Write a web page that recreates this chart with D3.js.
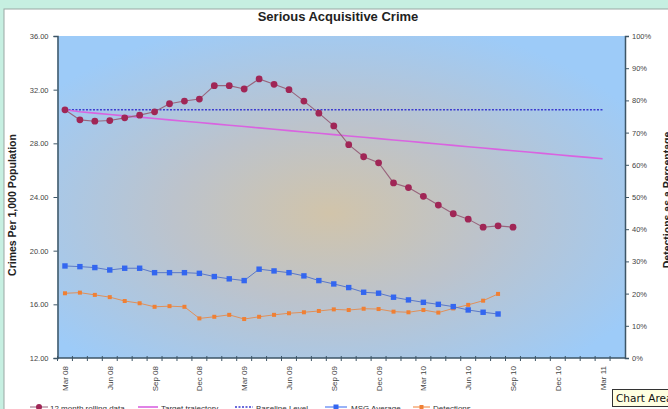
<!DOCTYPE html>
<html>
<head>
<meta charset="utf-8">
<script src="https://cdn.jsdelivr.net/npm/d3@7"></script>
<style>
  body { margin: 0; background: #c6efe1; overflow: hidden; }
  text { font-family: "Liberation Sans", Arial, sans-serif; }
</style>
</head>
<body>
<div id="container"></div>
<script>
let w = 668;
let h = 409;

// categories (monthly)
let months = ['Mar 08','Apr 08','May 08','Jun 08','Jul 08','Aug 08','Sep 08','Oct 08','Nov 08','Dec 08',
  'Jan 09','Feb 09','Mar 09','Apr 09','May 09','Jun 09','Jul 09','Aug 09','Sep 09','Oct 09','Nov 09','Dec 09',
  'Jan 10','Feb 10','Mar 10','Apr 10','May 10','Jun 10','Jul 10','Aug 10','Sep 10','Oct 10','Nov 10','Dec 10',
  'Jan 11','Feb 11','Mar 11','Apr 11'];
let tickLabels = ['Mar 08','Jun 08','Sep 08','Dec 08','Mar 09','Jun 09','Sep 09','Dec 09','Mar 10','Jun 10','Sep 10','Dec 10','Mar 11'];
let leftTicks = [12, 16, 20, 24, 28, 32, 36];
let rightTicks = [0, 0.1, 0.2, 0.3, 0.4, 0.5, 0.6, 0.7, 0.8, 0.9, 1];

// series values
let rolling = [30.5, 29.75, 29.65, 29.7, 29.9, 30.1, 30.35, 30.95, 31.15, 31.3,
  32.3, 32.3, 32.05, 32.8, 32.4, 32.0, 31.15, 30.25, 29.3, 27.9, 27.0, 26.55,
  25.05, 24.7, 24.05, 23.4, 22.75, 22.35, 21.75, 21.85, 21.75];
let target = [30.5, 30.35, 30.25, 30.15, 30.05, 29.95, 29.85, 29.75, 29.65, 29.55,
  29.45, 29.35, 29.25, 29.15, 29.05, 28.95, 28.85, 28.75, 28.65, 28.55, 28.45, 28.35,
  28.25, 28.15, 28.05, 27.95, 27.85, 27.75, 27.65, 27.55, 27.45, 27.35, 27.25, 27.15,
  27.05, 26.95, 26.85];
let baseline = [30.5, 30.5];
let baselineMonths = ['Mar 08', 'Mar 11'];
let msg = [18.86, 18.81, 18.74, 18.56, 18.69, 18.69, 18.36, 18.36, 18.36, 18.31,
  18.07, 17.9, 17.77, 18.62, 18.49, 18.36, 18.12, 17.77, 17.52, 17.25, 16.9, 16.83,
  16.53, 16.33, 16.15, 16.0, 15.83, 15.58, 15.41, 15.28];
let detections = [0.201, 0.203, 0.196, 0.189, 0.177, 0.170, 0.159, 0.161, 0.159, 0.123,
  0.128, 0.134, 0.121, 0.128, 0.134, 0.139, 0.142, 0.146, 0.151, 0.149, 0.153, 0.152,
  0.144, 0.142, 0.149, 0.141, 0.154, 0.165, 0.178, 0.199];

let viz = d3.select('#container')
  .append('svg')
    .attr('width', w)
    .attr('height', h);

// chart area
viz.append('rect').attr('x', 4).attr('y', 9).attr('width', w).attr('height', h)
  .attr('fill', 'white').attr('stroke', '#9aa7a4');

let pLeft = 57.5, pRight = 625, pTop = 36, pBottom = 358;

let xScale = d3.scaleBand().domain(months).range([pLeft, pRight]);
let yScale = d3.scaleLinear().domain([12, 36]).range([pBottom, pTop]);
let yRight = d3.scaleLinear().domain([0, 1]).range([pBottom, pTop]);
let cx = d => xScale(d) + xScale.bandwidth() / 2;

// plot area gradient
let defs = viz.append('defs');
let grad = defs.append('radialGradient').attr('id', 'plotbg')
  .attr('cx', 0.48).attr('cy', 0.55).attr('r', 0.62);
grad.append('stop').attr('offset', '0%').attr('stop-color', '#d1c4aa');
grad.append('stop').attr('offset', '45%').attr('stop-color', '#bcc3cc');
grad.append('stop').attr('offset', '100%').attr('stop-color', '#9dcbf8');

viz.append('rect').attr('x', pLeft).attr('y', pTop)
  .attr('width', pRight - pLeft).attr('height', pBottom - pTop)
  .attr('fill', 'url(#plotbg)');

// title
viz.append('text').attr('x', 338).attr('y', 21).attr('text-anchor', 'middle')
  .style('font-size', '13px').style('font-weight', 'bold').attr('fill', '#222')
  .text('Serious Acquisitive Crime');

// left axis
let yAxis = d3.axisLeft(yScale).tickValues(leftTicks).tickFormat(d3.format('.2f')).tickSize(4);
let yAxisGroup = viz.append('g').attr('class', 'yaxis')
  .attr('transform', 'translate(' + pLeft + ', 0)').call(yAxis);
yAxisGroup.select('.domain').attr('stroke', '#3d5566').attr('stroke-width', 1.5);
yAxisGroup.selectAll('.tick line').attr('stroke', '#3d5566');
yAxisGroup.selectAll('.tick text').attr('fill', '#444').style('font-size', '7.5px')
  .style('font-family', '"Liberation Sans", Arial, sans-serif').attr('x', -9);

// right axis
let yAxisR = d3.axisRight(yRight).tickValues(rightTicks).tickFormat(d3.format('.0%')).tickSize(4);
let yAxisRGroup = viz.append('g').attr('class', 'yaxisr')
  .attr('transform', 'translate(' + pRight + ', 0)').call(yAxisR);
yAxisRGroup.select('.domain').attr('stroke', '#3d5566').attr('stroke-width', 1.5);
yAxisRGroup.selectAll('.tick line').attr('stroke', '#3d5566');
yAxisRGroup.selectAll('.tick text').attr('fill', '#444').style('font-size', '7.5px')
  .style('font-family', '"Liberation Sans", Arial, sans-serif').attr('x', 7);

// x axis
let xAxisGroup = viz.append('g').attr('class', 'xaxis');
xAxisGroup.append('line').attr('x1', pLeft).attr('x2', pRight).attr('y1', pBottom).attr('y2', pBottom)
  .attr('stroke', '#3d5566').attr('stroke-width', 1.5);
xAxisGroup.selectAll('.xt').data(months).enter().append('line')
  .attr('x1', d => xScale(d)).attr('x2', d => xScale(d))
  .attr('y1', pBottom - 2).attr('y2', pBottom + 3)
  .attr('stroke', '#3d5566');
xAxisGroup.selectAll('.xl').data(tickLabels).enter().append('text')
  .attr('transform', d => 'translate(' + (cx(d) + 3) + ',' + (pBottom + 8) + ') rotate(-90)')
  .attr('text-anchor', 'end').style('font-size', '8px').attr('fill', '#444')
  .text(d => d);

// axis titles
viz.append('text').attr('transform', 'translate(16, 205) rotate(-90)')
  .attr('text-anchor', 'middle').style('font-size', '10.5px').style('font-weight', 'bold')
  .attr('fill', '#222').text('Crimes Per 1,000 Population');
viz.append('text').attr('transform', 'translate(671, 200) rotate(-90)')
  .attr('text-anchor', 'middle').style('font-size', '10.5px').style('font-weight', 'bold')
  .attr('fill', '#222').text('Detections as a Percentage');

// series
let lineL = d3.line().x((d, i) => cx(months[i])).y(d => yScale(d));
let lineR = d3.line().x((d, i) => cx(months[i])).y(d => yRight(d));

viz.append('path').datum(baseline)
  .attr('d', d3.line().x((d, i) => cx(baselineMonths[i])).y(d => yScale(d)))
  .attr('fill', 'none').attr('stroke', '#3b3bd0').attr('stroke-width', 1.5)
  .attr('stroke-dasharray', '2,1.5');

viz.append('path').datum(target).attr('d', lineL)
  .attr('fill', 'none').attr('stroke', '#d963e0').attr('stroke-width', 1.6);

viz.append('path').datum(detections).attr('d', lineR)
  .attr('fill', 'none').attr('stroke', '#e0905a').attr('stroke-width', 1);
viz.selectAll('.det').data(detections).enter().append('rect')
  .attr('x', (d, i) => cx(months[i]) - 2).attr('y', d => yRight(d) - 2)
  .attr('width', 4).attr('height', 4).attr('fill', '#f08034');

viz.append('path').datum(msg).attr('d', lineL)
  .attr('fill', 'none').attr('stroke', '#5a78c8').attr('stroke-width', 1);
viz.selectAll('.msg').data(msg).enter().append('rect')
  .attr('x', (d, i) => cx(months[i]) - 2.7).attr('y', d => yScale(d) - 2.7)
  .attr('width', 5.4).attr('height', 5.4).attr('fill', '#3366f0');

viz.append('path').datum(rolling).attr('d', lineL)
  .attr('fill', 'none').attr('stroke', '#98647c').attr('stroke-width', 1.1);
viz.selectAll('.roll').data(rolling).enter().append('circle')
  .attr('cx', (d, i) => cx(months[i])).attr('cy', d => yScale(d))
  .attr('r', 3.4).attr('fill', '#a02656');

// legend (cut off at bottom, as in the original)
let legendNames = ['12 month rolling data', 'Target trajectory', 'Baseline Level', 'MSG Average', 'Detections'];
let legendX = [30, 138, 235, 325, 413];
let ly = 407;
let lg = viz.append('g');
lg.append('line').attr('x1', legendX[0]).attr('x2', legendX[0] + 18).attr('y1', ly).attr('y2', ly).attr('stroke', '#98647c');
lg.append('circle').attr('cx', legendX[0] + 9).attr('cy', ly).attr('r', 3).attr('fill', '#a02656');
lg.append('line').attr('x1', legendX[1]).attr('x2', legendX[1] + 20).attr('y1', ly).attr('y2', ly).attr('stroke', '#d963e0').attr('stroke-width', 1.6);
lg.append('line').attr('x1', legendX[2]).attr('x2', legendX[2] + 18).attr('y1', ly).attr('y2', ly).attr('stroke', '#3b3bd0').attr('stroke-width', 1.5).attr('stroke-dasharray', '2,1.5');
lg.append('line').attr('x1', legendX[3]).attr('x2', legendX[3] + 22).attr('y1', ly).attr('y2', ly).attr('stroke', '#3366f0');
lg.append('rect').attr('x', legendX[3] + 8.5).attr('y', ly - 2.5).attr('width', 5).attr('height', 5).attr('fill', '#3366f0');
lg.append('line').attr('x1', legendX[4]).attr('x2', legendX[4] + 17).attr('y1', ly).attr('y2', ly).attr('stroke', '#f08034');
lg.append('rect').attr('x', legendX[4] + 6.5).attr('y', ly - 2).attr('width', 4).attr('height', 4).attr('fill', '#f08034');
lg.selectAll('.lt').data(legendNames).enter().append('text')
  .attr('x', (d, i) => legendX[i] + [20, 23, 21, 26, 20][i]).attr('y', ly + 4)
  .style('font-size', '8px').attr('fill', '#333').text(d => d);

// tooltip
let tip = viz.append('g').attr('transform', 'translate(612, 389)');
tip.append('rect').attr('x', 0.5).attr('y', 0.5).attr('width', 60).attr('height', 17)
  .attr('fill', '#ffffe1').attr('stroke', '#333');
tip.append('text').attr('x', 4).attr('y', 13).style('font-size', '10.5px').attr('fill', '#111')
  .style('font-family', '"DejaVu Sans", sans-serif').text('Chart Area');
</script>
</body>
</html>
